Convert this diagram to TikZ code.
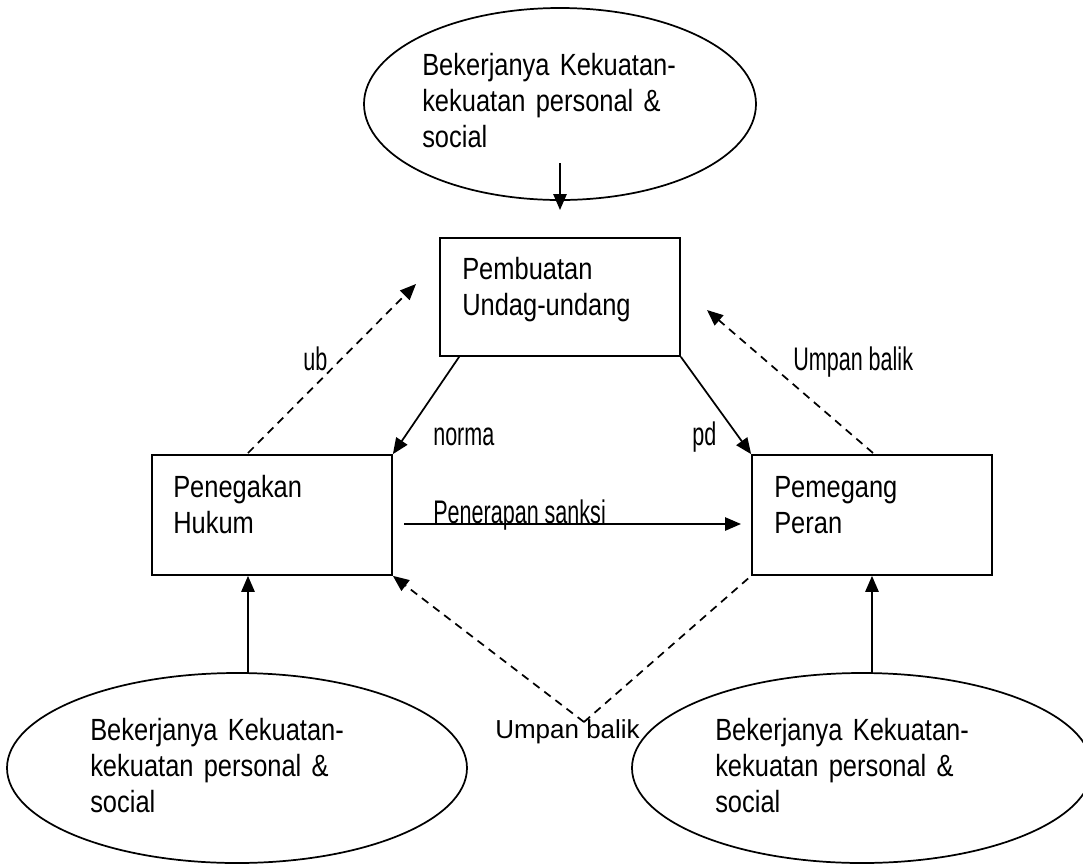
\documentclass[tikz,border=0pt]{standalone}
\usepackage{fontspec}
\setmainfont{Liberation Sans}
\newfontfamily\narrowfont[FakeStretch=0.83]{Liberation Sans}
\newfontfamily\condfont[FakeStretch=0.66]{Liberation Sans}
\usetikzlibrary{shapes.geometric,arrows.meta}
\begin{document}
\begin{tikzpicture}[x=0.75pt,y=-0.75pt,
  ln/.style={line width=1.3pt},
  arr/.style={ln,-{Triangle[length=12pt,width=10pt]}},
  dsh/.style={ln,dash pattern=on 6pt off 4.5pt},
  darr/.style={dsh,-{Triangle[length=12pt,width=10pt]}},
  ell/.style={draw,ln,ellipse,inner sep=0pt},
  bx/.style={draw,ln,rectangle,inner sep=0pt,minimum width=180pt,minimum height=90pt},
  txt/.style={inner sep=0pt,anchor=base west,align=left,text width=300pt,
    font=\narrowfont\fontsize{23pt}{27pt}\selectfont},
  lbl/.style={inner sep=0pt,anchor=base west,font=\condfont\fontsize{24.5pt}{28pt}\selectfont},
  lbr/.style={inner sep=0pt,anchor=base west,font=\fontsize{19.5pt}{23pt}\selectfont}]
\useasboundingbox (0,0) rectangle (1083,865);
\fill[white] (0,0) rectangle (1083,865);

% ellipses
\node[ell,minimum width=294pt,minimum height=144pt] (e1) at (560,104) {};
\node[ell,minimum width=345pt,minimum height=142.5pt] (e2) at (237,768) {};
\node[ell,minimum width=345pt,minimum height=142.5pt] (e3) at (862,768) {};
\node[txt] (t1) at (422,75) {Bekerjanya Kekuatan-\\kekuatan personal \&\\social};
\node[txt] (t2) at (90,740) {Bekerjanya Kekuatan-\\kekuatan personal \&\\social};
\node[txt] (t3) at (715,740) {Bekerjanya Kekuatan-\\kekuatan personal \&\\social};

% boxes
\node[bx,minimum height=88.5pt] (pu) at (560,297) {};
\node[bx] (ph) at (272,515) {};
\node[bx] (pp) at (872,515) {};
\node[txt] (tpu) at (462,279) {Pembuatan\\Undag-undang};
\node[txt] (tph) at (173,497) {Penegakan\\Hukum};
\node[txt] (tpp) at (774,497) {Pemegang\\Peran};

% coordinates
\coordinate (topS) at (560,163);
\coordinate (topE) at (560,210);
\coordinate (ubS) at (248,453);
\coordinate (ubE) at (416,284);
\coordinate (urS) at (873,453);
\coordinate (urE) at (707,310);
\coordinate (psS) at (404,524);
\coordinate (psE) at (741,524);
\coordinate (v) at (584,722);
\coordinate (a1) at (248,673);

% connectors
\draw[arr] (topS) -- (topE);
\draw[arr] ([xshift=15pt]pu.south west) -- (ph.north east);
\draw[arr] (pu.south east) -- (pp.north west);
\draw[darr] (ubS) -- (ubE);
\draw[darr] (urS) -- (urE);
\draw[arr] (psS) -- (psE);
\draw[darr] (v) -- (ph.south east);
\draw[dsh] (v) -- (pp.south west);
\draw[arr] (a1) -- (a1 |- ph.south);
\draw[arr] (pp.south |- e3.north) -- (pp.south);

% labels
\node[lbl] (lnorma) at (433,445) {norma};
\node[lbl] (lpd) at (692,445) {pd};
\node[lbl] (lub) at (303,370) {ub};
\node[lbl] (lur) at (793,370) {Umpan balik};
\node[lbl] (lps) at (433,523) {Penerapan sanksi};
\node[lbr] (lbot) at (495,738) {Umpan balik};
\end{tikzpicture}
\end{document}
